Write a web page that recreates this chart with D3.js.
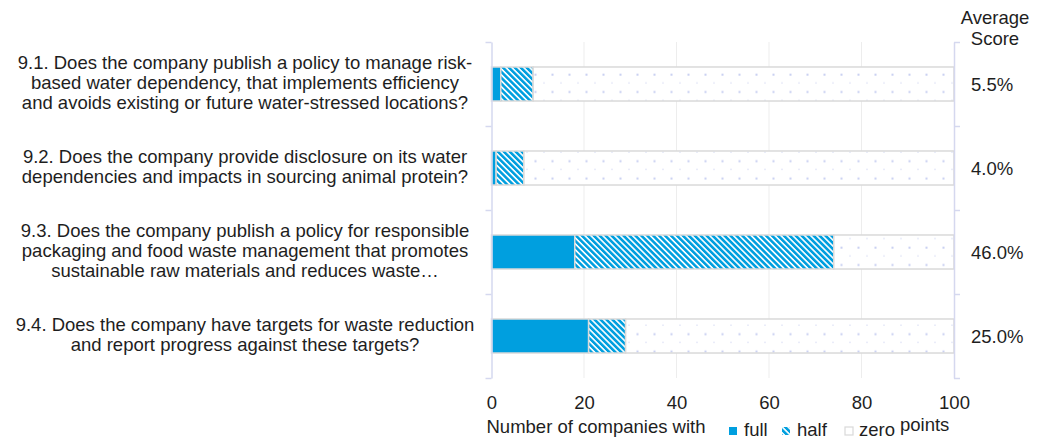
<!DOCTYPE html>
<html>
<head>
<meta charset="utf-8">
<script src="https://cdn.jsdelivr.net/npm/d3@7"></script>
<style>
  body { margin: 0; background: #fff; }
  text { font-family: "Liberation Sans", Arial, sans-serif; fill: #1e1e1e; }
</style>
</head>
<body>
<div id="chart"></div>
<script>
// preguntas, en lineas como en la imagen
var questions = [
  ["9.1. Does the company publish a policy to manage risk-",
   "based water dependency, that implements efficiency",
   "and avoids existing or future water-stressed locations?"],
  ["9.2. Does the company provide disclosure on its water",
   "dependencies and impacts in sourcing animal protein?"],
  ["9.3. Does the company publish a policy for responsible",
   "packaging and food waste management that promotes",
   "sustainable raw materials and reduces waste\u2026"],
  ["9.4. Does the company have targets for waste reduction",
   "and report progress against these targets?"]
];
var ids = ["9.1", "9.2", "9.3", "9.4"];
var fullPts = [2, 1, 18, 21];
var halfPts = [7, 6, 56, 8];
var zeroPts = [91, 93, 26, 71];
var avgScore = ["5.5%", "4.0%", "46.0%", "25.0%"];
var xTicks = [0, 20, 40, 60, 80, 100];

var W = 1046, H = 441;
var blue = "#009fdf";

var svg = d3.select("#chart").append("svg")
    .attr("width", W).attr("height", H);

var defs = svg.append("defs");
var stripes = defs.append("pattern")
    .attr("id", "stripes")
    .attr("patternUnits", "userSpaceOnUse")
    .attr("width", 4.2).attr("height", 4.2)
    .attr("patternTransform", "rotate(-45)");
stripes.append("rect").attr("width", 4.2).attr("height", 4.2).attr("fill", "#fff");
stripes.append("rect").attr("width", 2.6).attr("height", 4.2).attr("fill", blue);

var dots = defs.append("pattern")
    .attr("id", "dots")
    .attr("patternUnits", "userSpaceOnUse")
    .attr("x", 4).attr("y", 1)
    .attr("width", 17).attr("height", 17.3);
dots.append("rect").attr("width", 17).attr("height", 17.3).attr("fill", "#fff");
dots.append("rect").attr("x", 3.5).attr("y", 3.5).attr("width", 2).attr("height", 2).attr("fill", "#c9d0f2");
dots.append("rect").attr("x", 12).attr("y", 12.2).attr("width", 2).attr("height", 1).attr("fill", "#dfe3f6");

var x = d3.scaleLinear().domain([0, 100]).range([491.5, 954]);
var yb = d3.scaleBand().domain(ids).range([42, 378]).padding(0);
var yl = d3.scaleLinear().domain([0, ids.length]).range([42, 378]);

// lineas de la grilla
svg.append("g").selectAll("line")
    .data(xTicks.slice(1, -1))
  .enter().append("line")
    .attr("x1", function(d) { return x(d); })
    .attr("x2", function(d) { return x(d); })
    .attr("y1", 42).attr("y2", 378)
    .attr("stroke", "#ededed").attr("stroke-width", 1);

// barras apiladas
var rows = ids.map(function(id, i) {
  return { id: id, segs: [
    { x0: 0, v: fullPts[i], fill: blue },
    { x0: fullPts[i], v: halfPts[i], fill: "url(#stripes)" },
    { x0: fullPts[i] + halfPts[i], v: zeroPts[i], fill: "url(#dots)" }
  ]};
});

var barH = yb.bandwidth() * 0.405;
var g = svg.append("g").selectAll("g")
    .data(rows)
  .enter().append("g");

g.selectAll("rect")
    .data(function(d) { return d.segs.map(function(s) { s.id = d.id; return s; }); })
  .enter().append("rect")
    .attr("x", function(d) { return x(d.x0); })
    .attr("width", function(d) { return x(d.x0 + d.v) - x(d.x0); })
    .attr("y", function(d) { return yb(d.id) + (yb.bandwidth() - barH) / 2; })
    .attr("height", barH)
    .attr("fill", function(d) { return d.fill; })
    .attr("stroke", "#d9d9d9")
    .attr("stroke-width", 1.5);

// ejes izquierdo y derecho
var axL = svg.append("g")
    .attr("transform", "translate(" + x(0) + ",0)")
    .call(d3.axisLeft(yl).tickValues(d3.range(ids.length + 1)).tickFormat("").tickSize(6).tickSizeOuter(0));
var axR = svg.append("g")
    .attr("transform", "translate(" + x(100) + ",0)")
    .call(d3.axisRight(yl).tickValues(d3.range(ids.length + 1)).tickFormat("").tickSize(6).tickSizeOuter(0));
[axL, axR].forEach(function(a) {
  a.selectAll("path, line").attr("stroke", "#d5d8ef").attr("stroke-width", 1.5);
});

// eje x sin linea
var axB = svg.append("g")
    .attr("transform", "translate(0,391)")
    .call(d3.axisBottom(x).tickValues(xTicks).tickSize(0));
axB.select(".domain").remove();
axB.selectAll("text")
    .attr("font-size", "18.5px")
    .attr("dy", "0")
    .attr("y", 18)
    .attr("font-family", "Liberation Sans, Arial, sans-serif")
    .attr("fill", "#1e1e1e");

// etiquetas de las preguntas
var lab = svg.append("g").selectAll("text")
    .data(questions)
  .enter().append("text")
    .attr("text-anchor", "middle")
    .attr("font-size", "18.5px");
lab.each(function(lines, i) {
  var cy = yb(ids[i]) + yb.bandwidth() / 2;
  d3.select(this).selectAll("tspan")
      .data(lines)
    .enter().append("tspan")
      .attr("x", 245)
      .attr("y", function(d, j) { return cy + (j - (lines.length - 1) / 2) * 20 + 5; })
      .text(function(d) { return d; });
});

// puntaje promedio
svg.append("g").selectAll("text")
    .data(avgScore)
  .enter().append("text")
    .attr("x", 971)
    .attr("y", function(d, i) { return yb(ids[i]) + yb.bandwidth() / 2 + 6.5; })
    .attr("font-size", "18.5px")
    .text(function(d) { return d; });

svg.append("text").attr("x", 995).attr("y", 24).attr("text-anchor", "middle")
    .attr("font-size", "18.5px").text("Average");
svg.append("text").attr("x", 995).attr("y", 45).attr("text-anchor", "middle")
    .attr("font-size", "18.5px").text("Score");

// leyenda
svg.append("text").attr("x", 486.5).attr("y", 433).attr("font-size", "18.5px")
    .text("Number of companies with");

var legend = [
  { fill: blue, label: "full", sx: 729, tx: 744 },
  { fill: "url(#stripes)", label: "half", sx: 782, tx: 797 },
  { fill: "#fff", label: "zero", sx: 845, tx: 859 }
];
var lg = svg.append("g").selectAll("g").data(legend).enter().append("g");
lg.append("rect")
    .attr("x", function(d) { return d.sx; })
    .attr("y", 427)
    .attr("width", 8).attr("height", 8)
    .attr("fill", function(d) { return d.fill; })
    .attr("stroke", function(d, i) { return i == 2 ? "#d9d9d9" : "none"; })
    .attr("stroke-width", 1.2);
lg.append("text")
    .attr("x", function(d) { return d.tx; })
    .attr("y", 436)
    .attr("font-size", "18.5px")
    .text(function(d) { return d.label; });

svg.append("text").attr("x", 900).attr("y", 431).attr("font-size", "18.5px")
    .text("points");
</script>
</body>
</html>
